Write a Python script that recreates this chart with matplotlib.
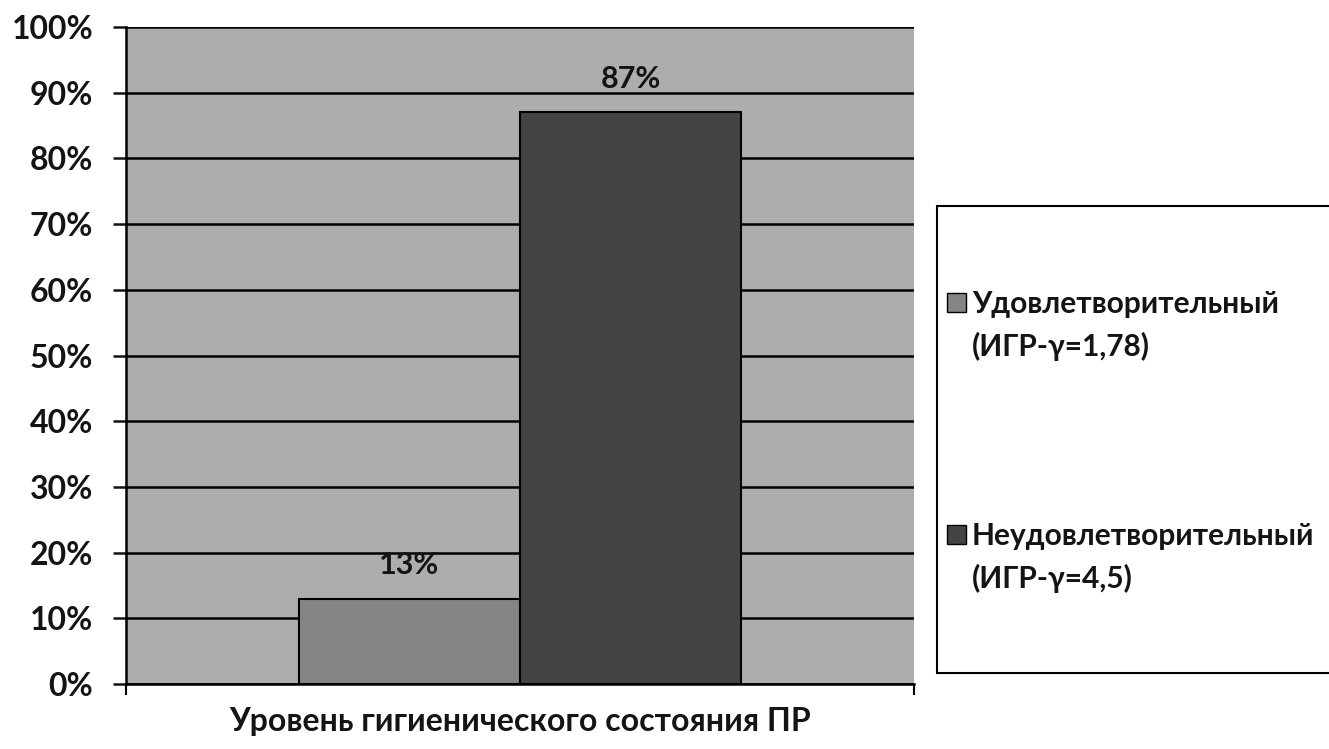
import matplotlib
matplotlib.use("Agg")
import matplotlib.pyplot as plt
from matplotlib.patches import Rectangle
from matplotlib.ticker import PercentFormatter

plt.rcParams['font.family'] = ['Lato', 'DejaVu Sans']
plt.rcParams['font.weight'] = 'bold'

category = "Уровень гигиенического состояния ПР"
series_labels = ["Удовлетворительный\n(ИГР-γ=1,78)", "Неудовлетворительный\n(ИГР-γ=4,5)"]
values = [13, 87]
value_labels = ["13%", "87%"]
colors = ["#858585", "#444444"]
yticks = list(range(0, 101, 10))

W, H = 1329, 749
TXT = "#141414"
FS = 23
fig = plt.figure(figsize=(W / 100, H / 100), dpi=100)
ax = fig.add_axes([126 / W, 1 - 684 / H, (914 - 126) / W, (684 - 27) / H])
ax.set_facecolor("#adadad")

bw = 221 / 788
offsets = [-bw / 2, bw / 2]
for off, v, c, lab, vl in zip(offsets, values, colors, series_labels, value_labels):
    ax.bar(off, v, width=bw, color=c, edgecolor="black", linewidth=1.5, zorder=3, label=lab)
    ax.text(off, v + 3.0, vl, ha="center", va="bottom", fontsize=FS - 1,
            fontweight="bold", color=TXT)

ax.set_xlim(-0.5, 0.5)
ax.set_ylim(0, 100)
ax.set_yticks(yticks)
ax.yaxis.set_major_formatter(PercentFormatter(decimals=0))
ax.yaxis.grid(True, color="black", linewidth=1.8, zorder=1)
ax.set_axisbelow(True)
ax.tick_params(axis="y", length=9.5, width=1.8, pad=14, labelsize=FS, colors=TXT)
ax.set_xticks([-0.5, 0.5])
ax.set_xticklabels(["", ""])
ax.tick_params(axis="x", length=8, width=1.5)
for s in ["top", "right"]:
    ax.spines[s].set_visible(False)
ax.spines["left"].set_linewidth(1.8)
ax.spines["bottom"].set_linewidth(1.8)
ax.set_xlabel(category, fontsize=FS, fontweight="bold", labelpad=5, color=TXT)

# legend frame (extends past the right edge, as in the reference)
fig.patches.append(Rectangle((937 / W, 1 - 673 / H), 0.5, (673 - 206) / H,
                             transform=fig.transFigure, facecolor="white",
                             edgecolor="black", linewidth=1.5, zorder=0))
entry_baselines = [313, 545]
line_gap = 43
for base, c, lab in zip(entry_baselines, colors, series_labels):
    fig.patches.append(Rectangle((947 / W, 1 - (base - 1) / H), 19 / W, 19 / H,
                                 transform=fig.transFigure, facecolor=c,
                                 edgecolor="black", linewidth=1.0, zorder=2))
    for i, line in enumerate(lab.split("\n")):
        fig.text(972 / W, 1 - (base + i * line_gap) / H, line, ha="left",
                 va="baseline", fontsize=FS - 1.5, fontweight="bold", color=TXT)

fig.savefig("out.png", dpi=100)
